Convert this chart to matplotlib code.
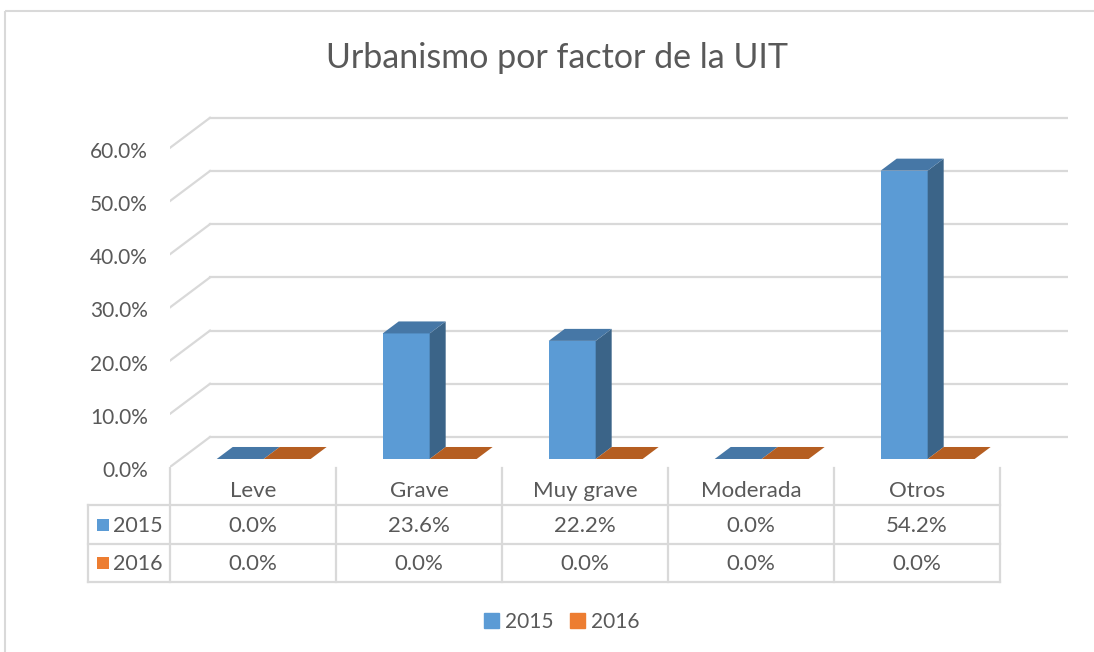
import matplotlib.pyplot as plt
from matplotlib.patches import Patch, Rectangle

categories = ['Leve', 'Grave', 'Muy grave', 'Moderada', 'Otros']
years = ['2015', '2016']
vals_2015 = [0.0, 23.6, 22.2, 0.0, 54.2]
vals_2016 = [0.0, 0.0, 0.0, 0.0, 0.0]
yticks = [0, 10, 20, 30, 40, 50, 60]

front = ['#5b9bd5', '#ed7d31']
top = ['#4677a6', '#b55e21']
side = ['#3b6488', '#9a4f1c']
grid_c = '#d9d9d9'
txt_c = '#595959'
plt.rcParams['font.family'] = ['Lato', 'DejaVu Sans']

# layout in pixels
W_PX, H_PX = 1094, 652
L_PX, R_PX = 170, 1068
Y0_PX, TOP_PX = 467, 116
PX_PCT = 5.32
COL = 166
DX = 40 / COL           # depth offset, category units
DY = 30 / PX_PCT        # depth offset, percent units
BW = 0.283              # bar width
Z0, DZ = 0.267, 0.4     # bar depth position / thickness

fig = plt.figure(figsize=(W_PX / 100, H_PX / 100), dpi=100)
ax = fig.add_axes([L_PX / W_PX, 1 - Y0_PX / H_PX,
                   (R_PX - L_PX) / W_PX, (Y0_PX - TOP_PX) / H_PX])
ax.set_xlim(0, (R_PX - L_PX) / COL)
ax.set_ylim(0, (Y0_PX - TOP_PX) / PX_PCT)
ax.axis('off')

# overlay in pixel coordinates
ov = fig.add_axes([0, 0, 1, 1], zorder=-1)
ov.set_xlim(0, W_PX)
ov.set_ylim(H_PX, 0)
ov.axis('off')
ov.add_patch(Rectangle((5, 11), W_PX, H_PX, fill=False, ec=grid_c, lw=1.5))

xmax = (R_PX - L_PX) / COL
for v in yticks:
    ax.plot([0, DX], [v, v + DY], color=grid_c, lw=1.6, zorder=1)
    ax.plot([DX, xmax], [v + DY, v + DY], color=grid_c, lw=1.6, zorder=1)
    ov.text(148, Y0_PX - v * PX_PCT + 4, f'{v:.1f}%', ha='right', va='center',
            fontsize=15, color=txt_c)


def P(x, y, z):
    return x + z * DX, y + z * DY


def draw_bar(x0, h, s):
    z1 = Z0 + DZ
    faces = [
        ([P(x0, 0, Z0), P(x0 + BW, 0, Z0), P(x0 + BW, h, Z0), P(x0, h, Z0)], front[s]),
        ([P(x0 + BW, 0, Z0), P(x0 + BW, 0, z1), P(x0 + BW, h, z1), P(x0 + BW, h, Z0)], side[s]),
        ([P(x0, h, Z0), P(x0 + BW, h, Z0), P(x0 + BW, h, z1), P(x0, h, z1)], top[s]),
    ]
    for pts, c in faces:
        xs, ys = zip(*pts)
        ax.fill(xs, ys, color=c, lw=0, zorder=3)


for i in range(len(categories)):
    for s, vals in enumerate([vals_2015, vals_2016]):
        draw_bar(i + 0.5 - BW + s * BW, vals[i], s)

# data table
rows_y = [505, 544, 582]
left_tab = 88
right_tab = L_PX + COL * len(categories)
for y in rows_y:
    ov.plot([left_tab, right_tab], [y, y], color=grid_c, lw=1.6)
ov.plot([left_tab, left_tab], [rows_y[0], rows_y[-1]], color=grid_c, lw=1.6)
for i in range(len(categories) + 1):
    x = L_PX + COL * i
    ov.plot([x, x], [Y0_PX + 1, rows_y[-1]], color=grid_c, lw=1.6)
for i, c in enumerate(categories):
    xc = L_PX + COL * (i + 0.5)
    ov.text(xc, 491, c, ha='center', va='center', fontsize=16, color=txt_c)
    for s, vals in enumerate([vals_2015, vals_2016]):
        ov.text(xc, (rows_y[s] + rows_y[s + 1]) / 2 + 1, f'{vals[i]:.1f}%',
                ha='center', va='center', fontsize=16, color=txt_c)
for s, yr in enumerate(years):
    yc = (rows_y[s] + rows_y[s + 1]) / 2
    ov.add_patch(Rectangle((97, yc - 6), 12, 12, color=front[s], lw=0))
    ov.text(113, yc + 1, yr, ha='left', va='center', fontsize=15.5, color=txt_c)

ov.text(557, 58, 'Urbanismo por factor de la UIT', ha='center', va='center',
        fontsize=24.5, color=txt_c)

handles = [Patch(color=front[s], label=years[s]) for s in range(2)]
fig.legend(handles=handles, loc='center', bbox_to_anchor=(562 / W_PX, 1 - 622 / H_PX),
           ncol=2, frameon=False, fontsize=15, labelcolor=txt_c,
           handlelength=0.7, handleheight=0.7, handletextpad=0.3, columnspacing=0.8)

fig.savefig('out.png', dpi=100)
